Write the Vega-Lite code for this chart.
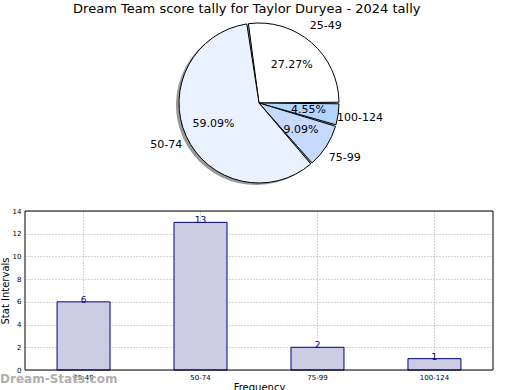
{
  "$schema": "https://vega.github.io/schema/vega-lite/v6.json",
  "padding": {"left": 0, "top": 3, "right": 0, "bottom": 0},
  "background": "white",
  "title": {"text": "Dream Team score tally for Taylor Duryea - 2024 tally", "font": "DejaVu Sans", "fontSize": 13, "fontWeight": "normal", "color": "black", "anchor": "middle", "offset": 2},
  "config": {
    "font": "DejaVu Sans",
    "view": {"stroke": null},
    "concat": {"spacing": 19}
  },
  "vconcat": [
    {
      "width": 468,
      "height": 170,
      "data": {"values": [
        {"range": "25-49", "count": 6, "pct": "27.27%", "ord": 1},
        {"range": "100-124", "count": 1, "pct": "4.55%", "ord": 2},
        {"range": "75-99", "count": 2, "pct": "9.09%", "ord": 3},
        {"range": "50-74", "count": 13, "pct": "59.09%", "ord": 4}
      ]},
      "encoding": {
        "theta": {"field": "count", "type": "quantitative", "stack": true, "scale": {"range": [-0.1428, 6.1404]}},
        "order": {"field": "ord", "type": "quantitative"}
      },
      "layer": [
        {
          "mark": {"type": "arc", "outerRadius": 80, "fill": "#999999", "xOffset": -3, "yOffset": 2}
        },
        {
          "mark": {"type": "arc", "outerRadius": 80, "stroke": "black", "strokeWidth": 1, "padAngle": 0.02},
          "encoding": {
            "color": {"field": "range", "type": "nominal", "legend": null,
              "scale": {"domain": ["25-49", "50-74", "75-99", "100-124"], "range": ["#FFFFFF", "#EAF1FF", "#C6D9FF", "#B2D5FF"]}}
          }
        },
        {
          "mark": {"type": "text", "radius": 50, "fontSize": 11, "color": "black"},
          "encoding": {"text": {"field": "pct"}}
        },
        {
          "mark": {"type": "text", "radius": 102, "fontSize": 11, "color": "black"},
          "encoding": {"text": {"field": "range"}}
        }
      ]
    },
    {
      "width": 468,
      "height": 159,
      "title": {"text": "Dream-Stats.com", "orient": "bottom", "anchor": "start", "frame": "bounds", "offset": -18, "fontSize": 12, "fontWeight": "bold", "color": "#b0b0b0"},
      "data": {"values": [
        {"range": "25-49", "count": 6},
        {"range": "50-74", "count": 13},
        {"range": "75-99", "count": 2},
        {"range": "100-124", "count": 1}
      ]},
      "encoding": {
        "x": {"field": "range", "type": "nominal", "sort": null,
          "scale": {"paddingInner": 0.547, "paddingOuter": 0.274},
          "axis": {"title": "Frequency", "titleFontSize": 10, "titleFontWeight": "normal", "titlePadding": 2, "labelFontSize": 7, "labelAngle": 0, "labelPadding": 3, "tickSize": 0, "domain": false, "grid": true, "gridDash": [1, 2], "gridColor": "#aaaaaa"}},
        "y": {"field": "count", "type": "quantitative",
          "scale": {"domain": [0, 14], "nice": false},
          "axis": {"title": "Stat Intervals", "titleFontSize": 10, "titleFontWeight": "normal", "titlePadding": 2, "values": [0, 2, 4, 6, 8, 10, 12, 14], "labelFontSize": 7, "labelPadding": 4, "tickSize": 0, "domain": false, "grid": true, "gridDash": [1, 2], "gridColor": "#aaaaaa"}}
      },
      "layer": [
        {"mark": {"type": "bar", "fill": "#CCCCE5", "stroke": "#000080", "strokeWidth": 1}},
        {"mark": {"type": "text", "color": "#000080", "fontSize": 9, "baseline": "bottom", "dy": 3}, "encoding": {"text": {"field": "count"}}},
        {"mark": {"type": "rect", "fill": null, "stroke": "black", "strokeWidth": 1},
         "data": {"values": [{}]},
         "encoding": {"x": null, "y": null}}
      ]
    }
  ]
}
